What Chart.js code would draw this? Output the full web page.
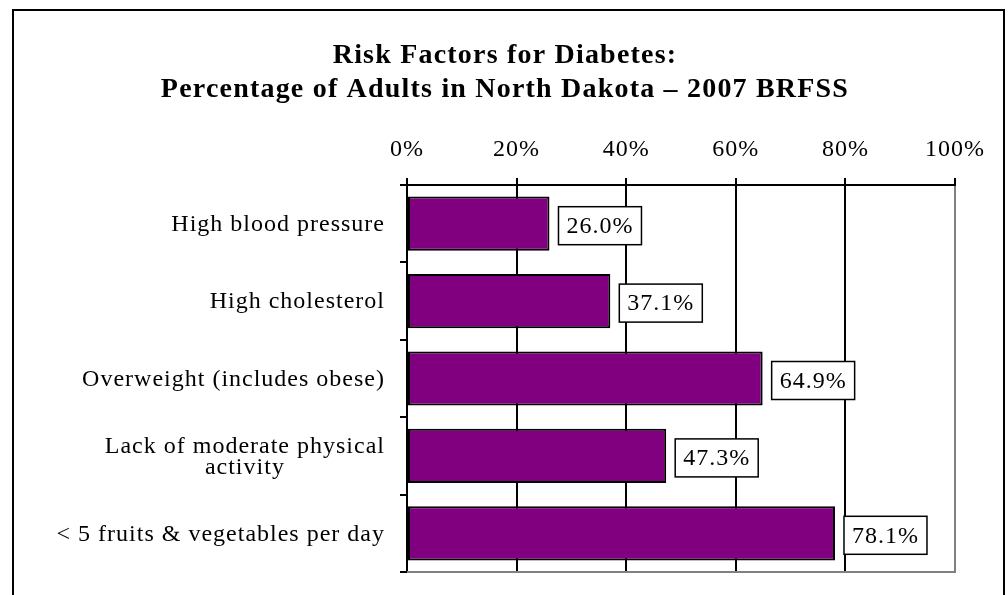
<!DOCTYPE html>
<html lang="en">
<head>
  <meta charset="UTF-8" />
  <title>Risk Factors for Diabetes</title>
  <style>
    body { margin: 0; background: #fff; overflow: hidden; }
    .wrap { position: relative; width: 1008px; height: 595px; overflow: hidden; }
    .frame { position: absolute; left: 12px; top: 9px; width: 989px; height: 700px; border: 2px solid #000; }
    #riskChart { position: absolute; left: 0; top: 0; }
  </style>
</head>
<body>
  <div class="wrap">
    <div class="frame"></div>
    <canvas id="riskChart" width="1008" height="595"></canvas>
  </div>

  <script src="https://cdn.jsdelivr.net/npm/chart.js"></script>
  <script>
    // chart data
    const categories = [
      'High blood pressure',
      'High cholesterol',
      'Overweight (includes obese)',
      ['Lack of moderate physical', 'activity'],
      '< 5 fruits & vegetables per day'
    ];
    const percentValues = [26.0, 37.1, 64.9, 47.3, 78.1];
    const titleLines = ['Risk Factors for Diabetes:', 'Percentage of Adults in North Dakota \u2013 2007 BRFSS'];
    const tickValues = [0, 20, 40, 60, 80, 100];

    const serif = "'Liberation Serif', 'Times New Roman', serif";
    Chart.defaults.font.family = serif;
    Chart.defaults.color = '#000';

    // Excel spreads its letters a bit wider than the browser does
    const spacing = {
      id: 'spacing',
      beforeUpdate(chart) { chart.ctx.letterSpacing = '1px'; },
      beforeDraw(chart) { chart.ctx.letterSpacing = '1px'; }
    };

    // title centred on the whole picture, not on the plot
    const pageTitle = {
      id: 'pageTitle',
      afterDraw(chart) {
        const ctx = chart.ctx;
        ctx.save();
        ctx.letterSpacing = '1.2px';
        ctx.font = 'bold 28px ' + serif;
        ctx.fillStyle = '#000';
        ctx.textAlign = 'center';
        ctx.textBaseline = 'alphabetic';
        ctx.fillText(titleLines[0], 505, 63);
        ctx.fillText(titleLines[1], 505, 97);
        ctx.restore();
      }
    };

    // category labels: block right aligned, lines centred inside it (like Excel wrapping)
    const categoryLabels = {
      id: 'categoryLabels',
      afterDraw(chart) {
        const ctx = chart.ctx;
        const y = chart.scales.y;
        ctx.save();
        ctx.letterSpacing = '1px';
        ctx.font = '24px ' + serif;
        ctx.fillStyle = '#000';
        ctx.textAlign = 'center';
        ctx.textBaseline = 'middle';
        categories.forEach((label, i) => {
          const lines = Array.isArray(label) ? label : [label];
          const w = Math.max(...lines.map(l => ctx.measureText(l).width));
          const cx = y.right - 22 - w / 2;
          const cy = y.getPixelForValue(i);
          const pitch = 21;
          lines.forEach((l, j) => {
            ctx.fillText(l, cx, cy + 1 - (lines.length - 1) * pitch / 2 + j * pitch);
          });
        });
        ctx.restore();
      }
    };

    // value labels in white boxes next to the bars, plus grey bottom edge of the plot
    const valueBoxes = {
      id: 'valueBoxes',
      afterDatasetsDraw(chart) {
        const ctx = chart.ctx;
        const area = chart.chartArea;
        ctx.save();
        ctx.strokeStyle = '#808080';
        ctx.lineWidth = 2;
        ctx.beginPath();
        ctx.moveTo(area.left, area.bottom);
        ctx.lineTo(area.right + 1, area.bottom);
        ctx.stroke();

        ctx.letterSpacing = '1px';
        ctx.font = '24px ' + serif;
        ctx.textAlign = 'center';
        ctx.textBaseline = 'middle';
        chart.getDatasetMeta(0).data.forEach((bar, i) => {
          const text = percentValues[i].toFixed(1) + '%';
          const w = ctx.measureText(text).width + 16;
          const h = 38;
          const x = bar.x + 9;
          const cy = bar.y + 2;
          ctx.fillStyle = '#fff';
          ctx.fillRect(x, cy - h / 2, w, h);
          ctx.strokeStyle = '#000';
          ctx.lineWidth = 1.5;
          ctx.strokeRect(x, cy - h / 2, w, h);
          ctx.fillStyle = '#000';
          ctx.fillText(text, x + w / 2, cy + 1);
        });
        ctx.restore();
      }
    };

    const ctx = document.getElementById('riskChart').getContext('2d');
    const riskChart = new Chart(ctx, {
      type: 'bar',
      data: {
        labels: categories,
        datasets: [{
          data: percentValues,
          backgroundColor: '#800080',
          borderColor: '#000',
          borderWidth: 2,
          borderSkipped: false,
          barPercentage: 0.7,
          categoryPercentage: 1
        }]
      },
      options: {
        indexAxis: 'y',
        responsive: false,
        animation: false,
        devicePixelRatio: 1,
        layout: { padding: { left: 0, right: 53, top: 104, bottom: 23 } },
        plugins: {
          legend: { display: false },
          tooltip: { enabled: false },
          title: { display: false }
        },
        scales: {
          x: {
            position: 'top',
            min: 0,
            max: 100,
            afterBuildTicks(scale) {
              scale.ticks = tickValues.map(v => ({ value: v }));
            },
            afterFit(scale) { scale.height = 81; },
            ticks: {
              padding: 14,
              font: { size: 24 },
              callback: v => v + '%'
            },
            grid: {
              color: c => (c.tick && c.tick.value === 100 ? '#808080' : '#000'),
              tickColor: '#000',
              lineWidth: 2,
              tickLength: 7
            },
            border: { color: '#000', width: 2 }
          },
          y: {
            afterFit(scale) { scale.width = 407; },
            ticks: { display: false },
            grid: {
              offset: true,
              drawOnChartArea: false,
              color: '#000',
              lineWidth: 2,
              tickLength: 7
            },
            border: { color: '#000', width: 2 }
          }
        }
      },
      plugins: [spacing, pageTitle, categoryLabels, valueBoxes]
    });
  </script>
</body>
</html>
